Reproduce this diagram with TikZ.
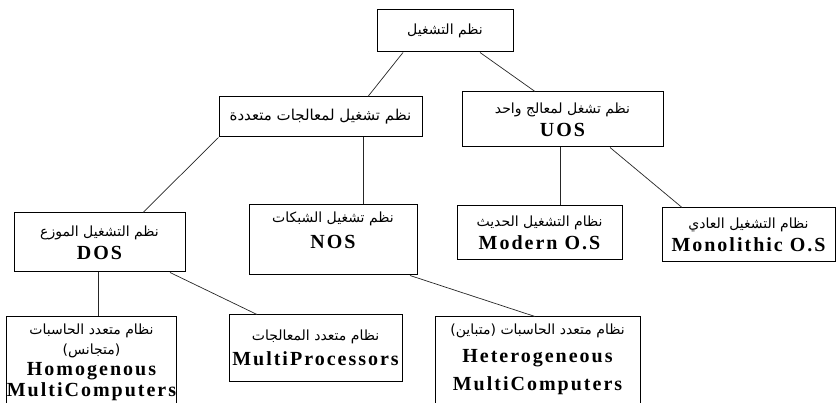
\documentclass[tikz,border=0pt]{standalone}
\usepackage{fontspec}
\setmainfont{Liberation Serif}
\newfontfamily\arabicfont[Script=Arabic]{DejaVu Sans}
\newfontfamily\latinfont[LetterSpace=10]{Liberation Serif}
\TeXXeTstate=1
\newcommand{\artext}[1]{{\arabicfont\beginR #1\endR}}
\newcommand{\entext}[1]{{\latinfont\bfseries\fontsize{20}{23}\selectfont #1}}

\begin{document}
\begin{tikzpicture}[x=1pt, y=-1pt,
  osbox/.style={draw=black, line width=1pt, inner sep=0pt, align=center,
    font=\fontsize{14}{23}\selectfont},
  link/.style={draw=black!85, line width=0.7pt}]
  \useasboundingbox (0,0) rectangle (838,403);

  % Level 0: root
  \node[osbox, minimum width=136pt, minimum height=42pt] (os) at (445,31) {\artext{نظم التشغيل}};

  % Level 1: multi processor / uni processor
  \node[osbox, minimum width=203pt, minimum height=40pt] (multi) at (320.5,117) {\fontsize{15}{23}\selectfont\artext{نظم تشغيل لمعالجات متعددة}};
  \node[osbox, minimum width=201pt, minimum height=55pt] (uos) at (562.5,119.5) {\artext{نظم تشغل لمعالج واحد}\\\entext{UOS}};

  % Level 2: DOS, NOS, modern, monolithic
  \node[osbox, minimum width=171pt, minimum height=59pt] (dos) at (99.5,242.5) {\artext{نظم التشغيل الموزع}\\\entext{DOS}};
  \node[osbox, minimum width=168pt, minimum height=70pt, text depth=20pt] (nos) at (333,240) {\artext{نظم تشغيل الشبكات}\\[3pt]\entext{NOS}};
  \node[osbox, minimum width=165pt, minimum height=54pt] (modern) at (539.5,233) {\artext{نظام التشغيل الحديث}\\\entext{Modern O.S}};
  \node[osbox, minimum width=173pt, minimum height=54pt] (mono) at (748.5,235) {\artext{نظام التشغيل العادي}\\\entext{Monolithic O.S}};

  % Level 3: leaves (two of them run off the bottom edge)
  \node[osbox, minimum width=169pt, minimum height=103pt, text depth=17pt] (homo) at (91.5,368.5) {\artext{نظام متعدد الحاسبات}\\[-3pt]\artext{(متجانس)}\\[-2pt]\entext{Homogenous}\\[-2pt]\entext{MultiComputers}};
  \node[osbox, minimum width=173pt, minimum height=66pt] (mproc) at (315.5,348) {\artext{نظام متعدد المعالجات}\\[2pt]\entext{MultiProcessors}};
  \node[osbox, minimum width=205pt, minimum height=88pt, text depth=8pt] (hetero) at (537.5,361) {\artext{نظام متعدد الحاسبات (متباين)}\\[5pt]\entext{Heterogeneous}\\[5pt]\entext{MultiComputers}};

  % Connectors
  \draw[link] ([xshift=-42pt]os.south) -- ([xshift=47.5pt]multi.north);
  \draw[link] ([xshift=35pt]os.south) -- ([xshift=-27.5pt]uos.north);
  \draw[link] (multi.south west) -- ([xshift=43.5pt]dos.north);
  \draw[link] ([xshift=42.5pt]multi.south) -- ([xshift=30pt]nos.north);
  \draw[link] ([xshift=-2.5pt]uos.south) -- ([xshift=20.5pt]modern.north);
  \draw[link] ([xshift=47.5pt]uos.south) -- ([xshift=-66.5pt]mono.north);
  \draw[link] ([xshift=-1.5pt]dos.south) -- ([xshift=6.5pt]homo.north);
  \draw[link] ([xshift=70.5pt]dos.south) -- ([xshift=-58.5pt]mproc.north);
  \draw[link] ([xshift=77pt]nos.south) -- ([xshift=-2.5pt]hetero.north);
\end{tikzpicture}
\end{document}
